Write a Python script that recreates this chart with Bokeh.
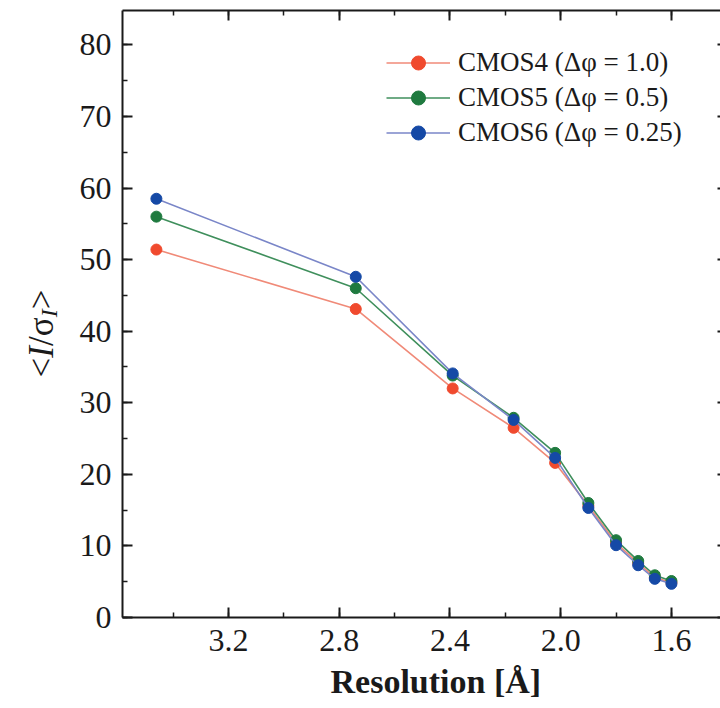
import math
from bokeh.plotting import figure
from bokeh.layouts import row
from bokeh.models import (Range1d, SingleIntervalTicker, PrintfTickFormatter, LinearAxis,
                          Legend, LegendItem, Label, Title)
from bokeh.embed import file_html
from bokeh.resources import INLINE

# ---- data ----
resolution = [3.46, 2.74, 2.39, 2.17, 2.02, 1.90, 1.80, 1.72, 1.66, 1.60]
cmos4 = [51.4, 43.1, 32.0, 26.5, 21.6, 15.6, 10.4, 7.6, 5.6, 4.9]
cmos5 = [56.0, 46.0, 33.8, 27.9, 23.0, 16.0, 10.8, 7.9, 5.9, 5.1]
cmos6 = [58.5, 47.6, 34.1, 27.6, 22.3, 15.3, 10.1, 7.3, 5.4, 4.7]
series_labels = ["CMOS4 (\u0394\u03c6 = 1.0)", "CMOS5 (\u0394\u03c6 = 0.5)", "CMOS6 (\u0394\u03c6 = 0.25)"]
x_title = "Resolution [\u00c5]"

FONT = "Liberation Serif"
INK = "#1a1a1a"
H = 708
YW = 75          # width of the strip holding the y-axis title
FRAME_LEFT = 122
FRAME_BOTTOM = 617

p = figure(width=720 - YW, height=H,
           x_range=Range1d(3.5824, 1.4228), y_range=Range1d(0, 84.8),
           output_backend="svg", toolbar_location=None,
           x_axis_location=None, y_axis_location=None,
           min_border_left=FRAME_LEFT - YW, min_border_right=0, min_border_top=10,
           min_border_bottom=H - FRAME_BOTTOM)
p.outline_line_color = None
p.xgrid.visible = False
p.ygrid.visible = False
p.background_fill_color = "white"
p.border_fill_color = "white"


def style(ax, labels=True, tick_in=10, minor_in=5, line=True):
    ax.axis_line_width = 2
    ax.axis_line_color = INK if line else None
    ax.major_tick_line_width = 2
    ax.major_tick_line_color = INK
    ax.minor_tick_line_width = 1.5
    ax.minor_tick_line_color = INK if minor_in > 0 else None
    ax.major_tick_in = tick_in
    ax.major_tick_out = 0
    ax.minor_tick_in = minor_in
    ax.minor_tick_out = 0
    ax.major_label_text_font = FONT
    if labels:
        ax.major_label_text_font_size = "32px"
        ax.major_label_text_color = INK
    else:
        ax.major_label_text_font_size = "0px"
        ax.major_label_text_color = None
        ax.major_label_standoff = 0


def xticker():
    return SingleIntervalTicker(interval=0.4, num_minor_ticks=2)


def yticker():
    return SingleIntervalTicker(interval=10, num_minor_ticks=2)


xb = LinearAxis(ticker=xticker(), formatter=PrintfTickFormatter(format="%.1f"))
style(xb)
xb.major_label_standoff = 12
p.add_layout(xb, "below")

xt = LinearAxis(ticker=xticker())
style(xt, labels=False)
p.add_layout(xt, "above")

yl = LinearAxis(ticker=yticker())
style(yl)
yl.major_label_standoff = 11
p.add_layout(yl, "left")

yr = LinearAxis(ticker=yticker())
style(yr, labels=False, tick_in=3, minor_in=0, line=False)
p.add_layout(yr, "right")

line_colors = ["#F08A78", "#3F8F5C", "#7A86C8"]
mark_colors = ["#F04A2E", "#1F7A3F", "#1549A6"]
items = []
for ys, lc, mc, lab in zip([cmos4, cmos5, cmos6], line_colors, mark_colors, series_labels):
    lr = p.line(resolution, ys, line_color=lc, line_width=1.6)
    sr = p.scatter(resolution, ys, size=11, fill_color=mc, line_color=mc)
    items.append(LegendItem(label=lab, renderers=[lr, sr]))

legend = Legend(items=items, location=(264, 467), glyph_width=64, glyph_height=35,
                label_height=35, spacing=0, padding=0, margin=0, label_standoff=8,
                border_line_color=None, background_fill_alpha=0,
                label_text_font=FONT, label_text_font_size="27px", label_text_color=INK)
p.add_layout(legend)

# x-axis title
p.add_layout(Title(text=x_title, align="left", offset=208, text_font=FONT,
                   text_font_size="34px", text_font_style="bold", text_color=INK,
                   standoff=15), "below")

# ---- y-axis title  <I/σ_I>  built from rotated pieces in a narrow strip ----
yfig = figure(width=YW, height=H, x_range=Range1d(0, 1), y_range=Range1d(0, 1),
              output_backend="svg", toolbar_location=None,
              x_axis_location=None, y_axis_location=None, min_border=0)
yfig.outline_line_color = None
yfig.xgrid.visible = False
yfig.ygrid.visible = False

fs = 35
pieces = [("<", "normal", fs, 0.564, 0), ("I", "italic", fs, 0.333, 0), ("/", "normal", fs, 0.278, 0),
          ("\u03c3", "normal", fs, 0.54, 0), ("I", "italic", 24, 0.333, 7), (">", "normal", fs, 0.564, 0)]
total = sum(w * s for _, _, s, w, _ in pieces)
base_x = 41
center_page_y = 333
# the strip's frame is aligned with the main frame (bottom at FRAME_BOTTOM)
pos = (FRAME_BOTTOM - center_page_y) - total / 2
for t, st, s, w, dx in pieces:
    yfig.add_layout(Label(x=base_x + dx, y=pos, x_units="screen", y_units="screen", text=t,
                          angle=math.pi / 2, text_align="left", text_baseline="alphabetic",
                          text_font=FONT, text_font_size=f"{s}px", text_font_style=st,
                          text_color=INK))
    pos += w * s

layout = row(yfig, p)
open("out.html", "w").write(file_html(layout, INLINE))
